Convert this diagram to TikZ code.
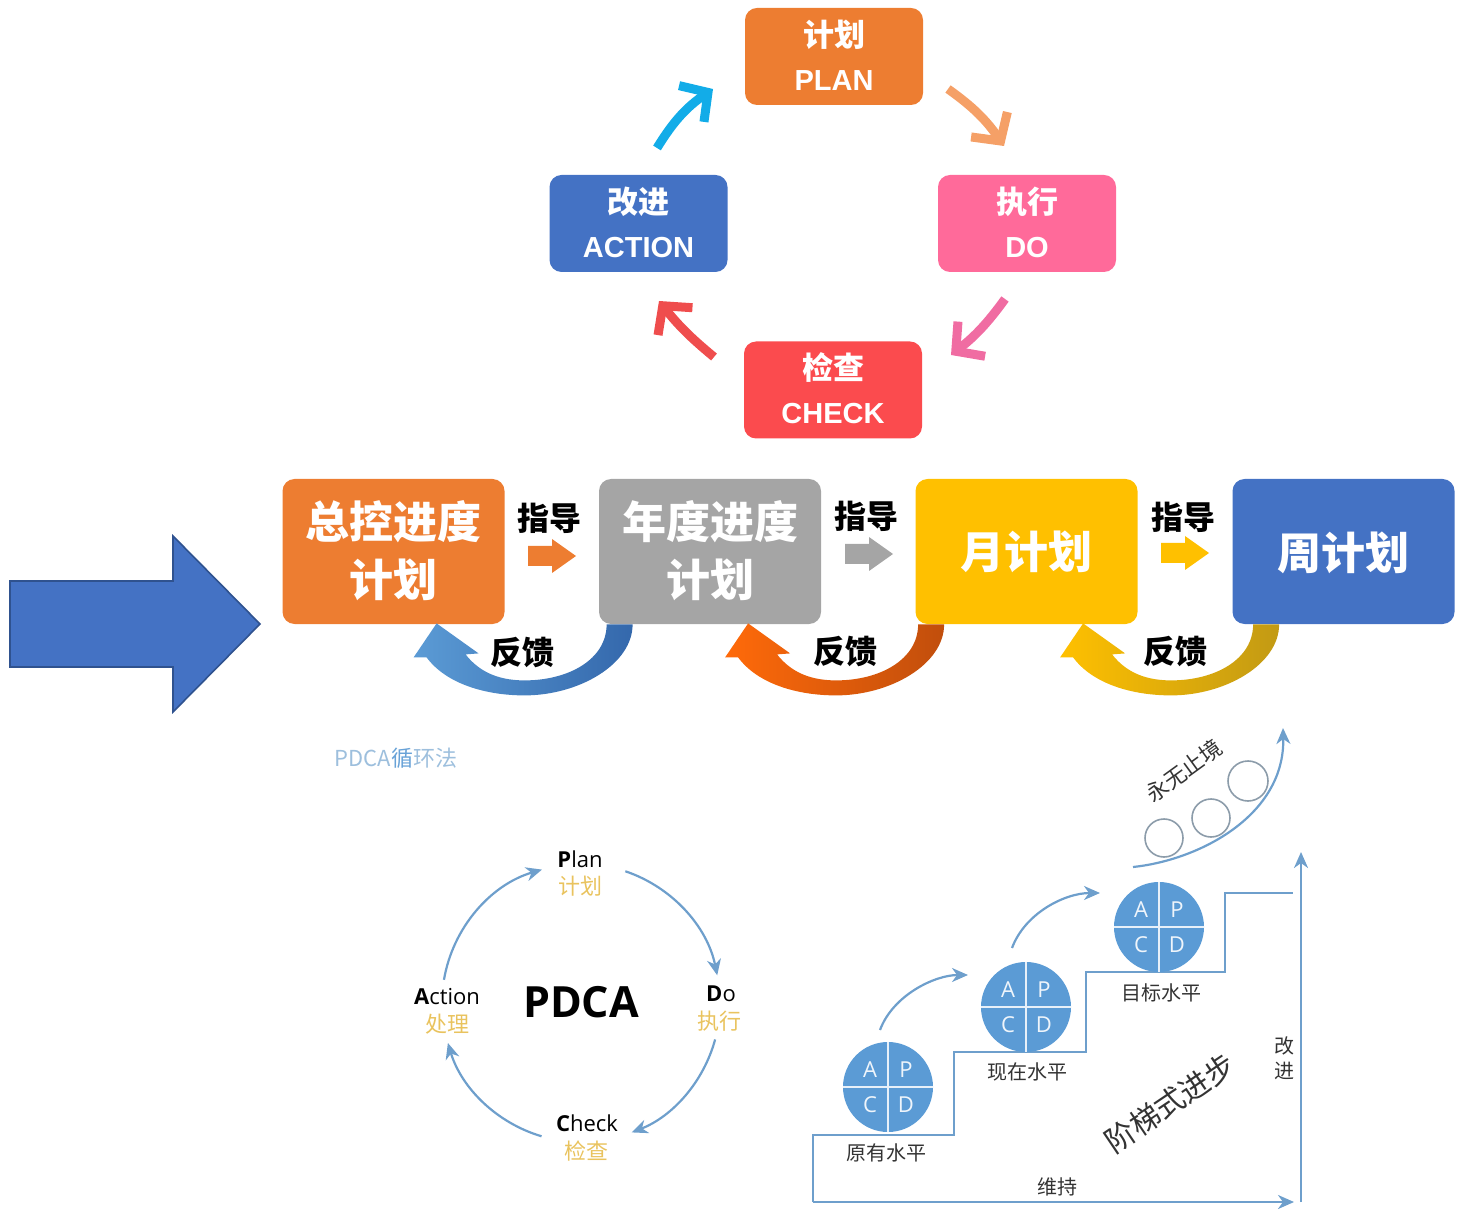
\documentclass[tikz,border=0pt]{standalone}
\usepackage{fontspec}
\setmainfont{Noto Sans CJK SC}
\newfontfamily\latinb{Liberation Sans}
\newfontfamily\osans{Open Sans}
\usetikzlibrary{arrows.meta,calc}

\definecolor{planor}{HTML}{ED7D31}
\definecolor{dopink}{HTML}{FF6A9A}
\definecolor{chkred}{HTML}{FB4B4E}
\definecolor{actblue}{HTML}{4472C4}
\definecolor{actedge}{HTML}{2F528F}
\definecolor{midgray}{HTML}{A5A5A5}
\definecolor{gold}{HTML}{FFC000}
\definecolor{cyanar}{HTML}{12ACE8}
\definecolor{orar}{HTML}{F5A067}
\definecolor{pinkar}{HTML}{F06CA2}
\definecolor{redar}{HTML}{EF4D4D}
\definecolor{lineblue}{HTML}{6E9FCC}
\definecolor{ballblue}{HTML}{5B9BD5}
\definecolor{labgold}{HTML}{E9C35E}
\definecolor{txtgray}{HTML}{333333}
\definecolor{ringgray}{HTML}{8C9CAA}
\definecolor{titleblue}{HTML}{9DBFDD}
\definecolor{fbblueL}{HTML}{5B9BD5}
\definecolor{fbblueR}{HTML}{3468AC}
\definecolor{fborL}{HTML}{FF6A0A}
\definecolor{fborR}{HTML}{C14E0C}
\definecolor{fbyeL}{HTML}{FFC000}
\definecolor{fbyeR}{HTML}{C29A14}

% feedback arrow: crescent band leaving the bottom of box #1 and pointing
% up at the box on its left; #2 shifts it sideways, #3/#4 are the shading colours
\newcommand\feedbackarrow[4]{%
  \path[left color=#3, right color=#4, shift={($(#1.south west)+(#2,0)$)}]
    (8,0) .. controls (8,35) and (-30,56) .. (-74,56)
    .. controls (-105,56) and (-122,44) .. (-133,30)
    -- (-120,29) -- (-162,-1) -- (-185,33) -- (-172,33)
    .. controls (-152,60) and (-112,71) .. (-74,71)
    .. controls (-20,71) and (34,40) .. (34,0) -- cycle;}

% small block arrow centred on coordinate #1
\newcommand\guidearrow[2]{%
  \fill[#2, shift={(#1)}] (-24,-10) -- (0,-10) -- (0,-17) -- (24,0)
    -- (0,17) -- (0,10) -- (-24,10) -- cycle;}

\begin{document}
\begin{tikzpicture}[x=0.5pt,y=-0.5pt,
  topbox/.style={rounded corners=6pt, minimum width=89pt, minimum height=48.5pt, inner sep=0pt},
  midbox/.style={rounded corners=6pt, minimum width=111pt, minimum height=72.5pt, inner sep=0pt},
  topzh/.style={text=white, font=\bfseries\fontsize{15.5}{15.5}\selectfont, inner sep=0pt},
  topen/.style={text=white, font=\latinb\bfseries\fontsize{14.5}{14.5}\selectfont, inner sep=0pt},
  midtxt/.style={text=white, font=\bfseries\fontsize{22}{22}\selectfont, inner sep=0pt},
  linktxt/.style={text=black, font=\bfseries\fontsize{16}{16}\selectfont, inner sep=0pt},
  cycarrow/.style={line width=4.5pt, -{Straight Barb[length=10pt,width=22pt]}},
  ringarrow/.style={lineblue, line width=1.1pt, -{Stealth[length=8pt,width=7pt,inset=2.5pt]}},
  stairline/.style={lineblue, line width=1.2pt},
  enlab/.style={font=\osans\fontsize{11}{11}\selectfont, text=black, inner sep=0pt},
  zhlab/.style={font=\fontsize{11}{11}\selectfont, text=labgold, inner sep=0pt},
  ball/.style={circle, fill=ballblue, minimum size=45pt, inner sep=0pt},
  balltxt/.style={font=\osans\fontsize{11}{11}\selectfont, text=white!90!ballblue, inner sep=0pt},
  levtxt/.style={font=\fontsize{10}{12.5}\selectfont, text=txtgray, inner sep=0pt},
  ringsmall/.style={draw=ringgray, line width=0.8pt, circle, minimum size=19pt, inner sep=0pt}
]
\useasboundingbox (0,0) rectangle (1460,1218);

% ---------------- PDCA cycle of coloured boxes ----------------
\node[topbox, fill=planor]  (plan)   at (834,56.5)   {};
\node[topbox, fill=dopink]  (do)     at (1027,223.5) {};
\node[topbox, fill=chkred]  (check)  at (833,390)    {};
\node[topbox, fill=actblue] (action) at (638.5,223.5){};

\node[topzh] (plan-zh)   at ($(plan)+(0,-22)$)   {计划};
\node[topen] (plan-en)   at ($(plan)+(0,24)$)    {PLAN};
\node[topzh] (do-zh)     at ($(do)+(0,-22)$)     {执行};
\node[topen] (do-en)     at ($(do)+(0,24)$)      {DO};
\node[topzh] (check-zh)  at ($(check)+(0,-22)$)  {检查};
\node[topen] (check-en)  at ($(check)+(0,24)$)   {CHECK};
\node[topzh] (action-zh) at ($(action)+(0,-22)$) {改进};
\node[topen] (action-en) at ($(action)+(0,24)$)  {ACTION};

\coordinate (ap-s) at (657,148);  \coordinate (ap-e) at (713,89);
\coordinate (pd-s) at (948,89);   \coordinate (pd-e) at (1004,146);
\coordinate (dc-s) at (1005,299); \coordinate (dc-e) at (951,355);
\coordinate (ca-s) at (714,357);  \coordinate (ca-e) at (659,301);
\draw[cycarrow, cyanar] (ap-s) to[bend left=12] (ap-e);
\draw[cycarrow, orar]   (pd-s) to[bend left=10] (pd-e);
\draw[cycarrow, pinkar] (dc-s) to[bend left=8] (dc-e);
\draw[cycarrow, redar]  (ca-s) to[bend left=6] (ca-e);

% ---------------- plan hierarchy ----------------
\draw[fill=actblue, draw=actedge, line width=0.8pt]
  (10,581) -- (173,581) -- (173,536) -- (260,624) -- (173,712) -- (173,667) -- (10,667) -- cycle;

\node[midbox, fill=planor]  (b1) at (393.5,551.5)  {};
\node[midbox, fill=midgray] (b2) at (710,551.5)    {};
\node[midbox, fill=gold]    (b3) at (1026.5,551.5) {};
\node[midbox, fill=actblue] (b4) at (1343.5,551.5) {};

\node[midtxt] (b1-l1) at ($(b1)+(0,-29.5)$) {总控进度};
\node[midtxt] (b1-l2) at ($(b1)+(0,28.5)$)  {计划};
\node[midtxt] (b2-l1) at ($(b2)+(0,-29.5)$) {年度进度};
\node[midtxt] (b2-l2) at ($(b2)+(0,28.5)$)  {计划};
\node[midtxt] (b3-t)  at ($(b3)+(0,0.5)$)   {月计划};
\node[midtxt] (b4-t)  at ($(b4)+(0,1.5)$)   {周计划};

\coordinate (g1) at (552,556);
\coordinate (g2) at (869,554);
\coordinate (g3) at (1185,553);
\guidearrow{g1}{planor}
\guidearrow{g2}{midgray}
\guidearrow{g3}{gold}
\node[linktxt] (g1-t) at (549,518)  {指导};
\node[linktxt] (g2-t) at (866,516)  {指导};
\node[linktxt] (g3-t) at (1183,517) {指导};

\feedbackarrow{b2}{0}{fbblueL}{fbblueR}
\feedbackarrow{b3}{-5}{fborL}{fborR}
\feedbackarrow{b4}{13}{fbyeL}{fbyeR}
\node[linktxt] (f1-t) at (522,652)  {反馈};
\node[linktxt] (f2-t) at (845,651)  {反馈};
\node[linktxt] (f3-t) at (1175,651) {反馈};

% ---------------- PDCA ring ----------------
\node[font=\fontsize{11}{11}\selectfont, text=titleblue, inner sep=0pt] (ring-title) at (396,758)
  {PDCA\textcolor{ballblue!80!titleblue}{循}环法};
\coordinate (ring) at (581,1003);
\node[font=\osans\bfseries\fontsize{21.5}{21.5}\selectfont, inner sep=0pt] (pdca) at (581,1002) {PDCA};
\node[enlab] (r-plan)   at (580,859)  {{\bfseries P}lan};
\node[zhlab] (r-plan-zh) at (580,886) {计划};
\node[enlab] (r-do)     at (721,994)  {{\bfseries D}o};
\node[zhlab] (r-do-zh)  at (719,1021) {执行};
\node[enlab] (r-chk)    at (587,1123) {{\bfseries C}heck};
\node[zhlab] (r-chk-zh) at (586,1151) {检查};
\node[enlab] (r-act)    at (447,997)  {{\bfseries A}ction};
\node[zhlab] (r-act-zh) at (447,1024) {处理};

\draw[ringarrow] ([shift={(-71.4:139)}]ring) arc[start angle=-71.4, end angle=-11.5, radius=139];
\draw[ringarrow] ([shift={(15.2:139)}]ring)  arc[start angle=15.2,  end angle=68.6,  radius=139];
\draw[ringarrow] ([shift={(106.5:139)}]ring) arc[start angle=106.5, end angle=163.3, radius=139];
\draw[ringarrow] ([shift={(189.6:139)}]ring) arc[start angle=189.6, end angle=253.7, radius=139];

% ---------------- staircase of improvement ----------------
\coordinate (o) at (813,1202);
\coordinate (xend) at (1294,1202);
\coordinate (ybot) at (1301,1202);
\coordinate (yend) at (1301,852);
\draw[stairline] (o) -- (813,1135) -- (954,1135) -- (954,1052) -- (1086,1052)
  -- (1086,972) -- (1225,972) -- (1225,893) -- (1293,893);
\draw[ringarrow, line width=1.2pt] (o) -- (xend);
\draw[ringarrow, line width=1.2pt] (ybot) -- (yend);

\foreach \k/\p in {k1/{888,1087}, k2/{1026,1007}, k3/{1159,927}} {
  \node[ball] (\k) at (\p) {};
  \draw[white!85!ballblue, line width=0.8pt] (\k.north) -- (\k.south) (\k.west) -- (\k.east);
  \node[balltxt] (\k-a) at ($(\k)+(-18,-17)$) {A};
  \node[balltxt] (\k-p) at ($(\k)+(18,-17)$)  {P};
  \node[balltxt] (\k-c) at ($(\k)+(-18,18)$)  {C};
  \node[balltxt] (\k-d) at ($(\k)+(18,18)$)   {D};
}

\node[levtxt] (lev1) at (886,1153)  {原有水平};
\node[levtxt] (lev2) at (1027,1072) {现在水平};
\node[levtxt] (lev3) at (1161,993)  {目标水平};
\node[levtxt] (keep) at (1057,1187) {维持};
\node[levtxt, align=center] (impr) at (1284,1058) {改\\进};
\node[font=\fontsize{15}{15}\selectfont, text=txtgray, rotate=34, inner sep=0pt] (stairs) at (1170,1103) {阶梯式进步};
\node[font=\fontsize{11}{11}\selectfont, text=txtgray, rotate=36, inner sep=0pt] (endless) at (1184,771) {永无止境};

\coordinate (s1) at (880,1030); \coordinate (e1) at (968,975);
\coordinate (s2) at (1012,948); \coordinate (e2) at (1100,893);
\coordinate (s3) at (1133,867); \coordinate (e3) at (1283,728);
\draw[ringarrow] (s1) .. controls (893,995) and (935,975) .. (e1);
\draw[ringarrow] (s2) .. controls (1025,913) and (1065,893) .. (e2);
\draw[ringarrow] (s3) .. controls (1200,860) and (1285,815) .. (e3);
\node[ringsmall] (q1) at (1164,838) {};
\node[ringsmall] (q2) at (1211,818) {};
\node[ringsmall, minimum size=20pt] (q3) at (1248,781) {};
\end{tikzpicture}
\end{document}
